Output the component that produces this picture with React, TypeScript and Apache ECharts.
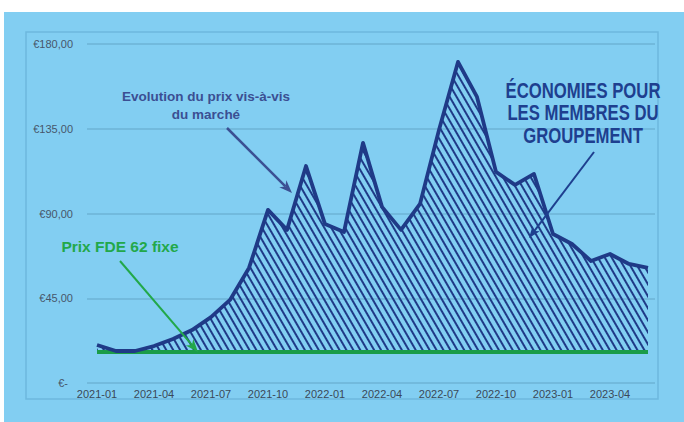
import React, { useEffect, useRef } from 'react';
import * as echarts from 'echarts';

const months = [
  '2021-01', '2021-02', '2021-03', '2021-04', '2021-05', '2021-06', '2021-07', '2021-08', '2021-09', '2021-10', '2021-11', '2021-12',
  '2022-01', '2022-02', '2022-03', '2022-04', '2022-05', '2022-06', '2022-07', '2022-08', '2022-09', '2022-10', '2022-11', '2022-12',
  '2023-01', '2023-02', '2023-03', '2023-04', '2023-05', '2023-06',
];
const marketPrice = [
  20.2, 17.0, 17.0, 19.6, 23.4, 28.1, 35.0, 44.1, 61.1, 91.9, 81.3, 115.2,
  84.4, 80.2, 127.5, 93.5, 81.3, 95.1, 134.4, 170.5, 151.9, 112.1, 105.2, 111.0,
  79.1, 73.8, 64.8, 68.5, 63.2, 61.1,
];
const fixedPrice = [
  16.5, 16.5, 16.5, 16.5, 16.5, 16.5, 16.5, 16.5, 16.5, 16.5, 16.5, 16.5,
  16.5, 16.5, 16.5, 16.5, 16.5, 16.5, 16.5, 16.5, 16.5, 16.5, 16.5, 16.5,
  16.5, 16.5, 16.5, 16.5, 16.5, 16.5,
];
const yTicks = [0, 45, 90, 135, 180];
const yLabels = ['€-', '€45,00', '€90,00', '€135,00', '€180,00'];

function arrow(x1: number, y1: number, x2: number, y2: number, color: string, lw: number, hl: number, hw: number) {
  const dx = x2 - x1, dy = y2 - y1;
  const len = Math.hypot(dx, dy);
  const ux = dx / len, uy = dy / len;
  const px = -uy, py = ux;
  const bx = x2 - ux * hl, by = y2 - uy * hl;
  const nx = x2 - ux * hl * 0.72, ny = y2 - uy * hl * 0.72;
  return [
    { type: 'line', z: 100, shape: { x1, y1, x2: nx, y2: ny }, style: { stroke: color, lineWidth: lw } },
    {
      type: 'polygon', z: 100,
      shape: { points: [[x2, y2], [bx + px * hw / 2, by + py * hw / 2], [nx, ny], [bx - px * hw / 2, by - py * hw / 2]] },
      style: { fill: color },
    },
  ];
}

export default function App() {
  const ref = useRef<HTMLDivElement>(null);
  useEffect(() => {
    const chart = echarts.init(ref.current!, null, { renderer: 'svg' });
    const gap = marketPrice.map((v, i) => Math.max(v - fixedPrice[i], 0));
    const font = '"Liberation Sans", Arial, sans-serif';
    chart.setOption({
      animation: false,
      grid: [
        { left: 87, right: 29, top: 44, bottom: 39 },
        { left: 97, right: 36, top: 44, bottom: 39 },
      ],
      xAxis: [
        { gridIndex: 0, type: 'value', min: 0, max: 1, show: false },
        {
          gridIndex: 1, type: 'category', data: months, boundaryGap: false,
          axisLine: { show: false }, axisTick: { show: false }, splitLine: { show: false },
          axisLabel: { interval: 2, color: '#3a4858', fontSize: 11, fontFamily: font, margin: 5 },
        },
      ],
      yAxis: [
        {
          gridIndex: 0, type: 'value', min: 0, max: 180, interval: 45,
          axisLine: { show: false }, axisTick: { show: false },
          splitLine: { lineStyle: { color: '#6cb3d6', width: 1.5 } },
          axisLabel: {
            color: '#47566a', fontSize: 11, fontFamily: font, margin: 14,
            formatter: (v: number) => {
              const i = yTicks.indexOf(v);
              return i === 0 ? '{z|' + yLabels[0] + '}' : yLabels[i];
            },
            rich: { z: { color: '#47566a', fontSize: 11, fontFamily: font, padding: [0, 5, 0, 0] } },
          },
        },
        { gridIndex: 1, type: 'value', min: 0, max: 180, interval: 45, show: false },
      ],
      series: [
        {
          type: 'line', xAxisIndex: 1, yAxisIndex: 1, stack: 'gap', data: fixedPrice,
          symbol: 'none', lineStyle: { opacity: 0, width: 0 }, silent: true,
        },
        {
          type: 'line', xAxisIndex: 1, yAxisIndex: 1, stack: 'gap', data: gap,
          symbol: 'none', lineStyle: { opacity: 0, width: 0 },
          itemStyle: {
            color: '#1f3a87',
            decal: {
              symbol: 'rect', symbolSize: 1, color: '#1f3a87', backgroundColor: 'rgba(0,0,0,0)',
              dashArrayX: [1, 0], dashArrayY: [1.5, 3.2], rotation: Math.PI / 3,
            },
          },
          areaStyle: { color: 'rgba(0,0,0,0)', opacity: 1 },
        },
        {
          type: 'line', xAxisIndex: 1, yAxisIndex: 1, data: fixedPrice,
          symbol: 'none', lineStyle: { color: '#1a9c48', width: 4 },
        },
        {
          type: 'line', xAxisIndex: 1, yAxisIndex: 1, data: marketPrice,
          symbol: 'none', lineStyle: { color: '#1f3a87', width: 3.8, join: 'round' },
        },
      ],
      graphic: [
        { type: 'rect', z: 1, shape: { x: 26, y: 32, width: 632, height: 367 }, style: { fill: 'none', stroke: '#6db8de', lineWidth: 1.5 } },
        { type: 'text', z: 100, x: 206, y: 96, style: { text: 'Evolution du prix vis-à-vis', fill: '#3b4f93', font: 'bold 13.5px ' + font, textAlign: 'center', textVerticalAlign: 'middle' } },
        { type: 'text', z: 100, x: 206, y: 114, style: { text: 'du marché', fill: '#3b4f93', font: 'bold 13.5px ' + font, textAlign: 'center', textVerticalAlign: 'middle' } },
        ...arrow(227, 128, 292, 193, '#3b4f93', 2.5, 13, 10),
        { type: 'text', z: 100, x: 583, y: 90, scaleX: 0.76, style: { text: 'ÉCONOMIES POUR', fill: '#1e3f8f', font: 'bold 22px ' + font, textAlign: 'center', textVerticalAlign: 'middle' } },
        { type: 'text', z: 100, x: 583, y: 112.5, scaleX: 0.76, style: { text: 'LES MEMBRES DU', fill: '#1e3f8f', font: 'bold 22px ' + font, textAlign: 'center', textVerticalAlign: 'middle' } },
        { type: 'text', z: 100, x: 583, y: 135.5, scaleX: 0.76, style: { text: 'GROUPEMENT', fill: '#1e3f8f', font: 'bold 22px ' + font, textAlign: 'center', textVerticalAlign: 'middle' } },
        ...arrow(594, 152, 529, 238, '#1e3f8f', 2, 12, 9),
        { type: 'text', z: 100, x: 120, y: 246, style: { text: 'Prix FDE 62 fixe', fill: '#22a84a', font: 'bold 15.5px ' + font, textAlign: 'center', textVerticalAlign: 'middle' } },
        ...arrow(120, 261, 198, 352, '#22a84a', 2, 13, 10),
      ],
    });
    return () => chart.dispose();
  }, []);
  return (
    <div style={{ position: 'fixed', left: 0, top: 0, width: 684, height: 422, background: '#ffffff' }}>
      <div style={{ position: 'absolute', left: 4, top: 12, right: 0, bottom: 0, background: '#82cef2' }} />
      <div ref={ref} style={{ position: 'absolute', left: 0, top: 0, width: 684, height: 422 }} />
    </div>
  );
}
